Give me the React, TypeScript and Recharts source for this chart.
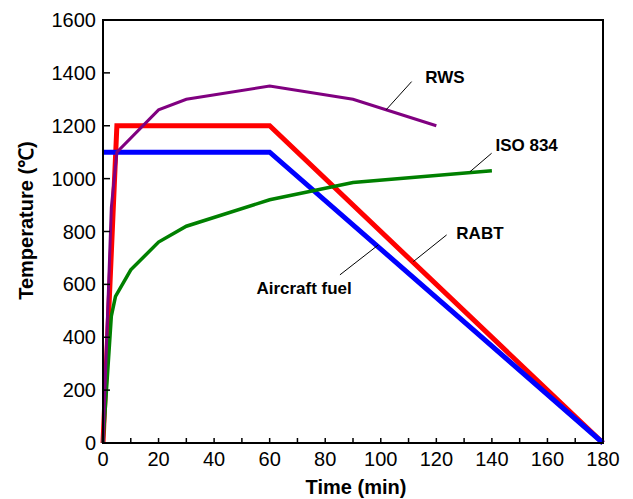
import React from 'react';
import { LineChart, Line, XAxis, YAxis, ReferenceArea, ReferenceLine, ReferenceDot } from 'recharts';

// Series (time in min, temperature in °C)
const rabtTime = [0, 5, 60, 180];
const rabtTemp = [0, 1200, 1200, 0];
const fuelTime = [0, 60, 180];
const fuelTemp = [1100, 1100, 0];
const rwsTime = [0, 3, 5, 20, 30, 60, 90, 120];
const rwsTemp = [0, 890, 1100, 1260, 1300, 1350, 1300, 1200];
const isoTime = [0, 3, 4.5, 10, 20, 30, 60, 90, 140];
const isoTemp = [0, 480, 555, 655, 760, 820, 920, 985, 1030];

// Axis ticks
const xTicks = [0, 10, 20, 30, 40, 50, 60, 70, 80, 90, 100, 110, 120, 130, 140, 150, 160, 170, 180];
const yTicks = [0, 200, 400, 600, 800, 1000, 1200, 1400, 1600];

// Annotations (data coordinates)
const labelNames = ['RWS', 'ISO 834', 'RABT', 'Aircraft fuel'];
const labelX = [123.1, 152.5, 135.7, 72.4];
const labelY = [1384, 1127, 794, 585];
const leaderX1 = [111.1, 139.9, 123.7, 85.3];
const leaderY1 = [1367, 1096, 787, 636];
const leaderX2 = [101.9, 132.1, 111.7, 99.1];
const leaderY2 = [1260, 1026, 686, 749];

const toData = (xs: number[], ys: number[]) => xs.map((t, i) => ({ t, v: ys[i] }));
const rabtData = toData(rabtTime, rabtTemp);
const fuelData = toData(fuelTime, fuelTemp);
const rwsData = toData(rwsTime, rwsTemp);
const isoData = toData(isoTime, isoTemp);

const FONT = '"Liberation Sans", Arial, sans-serif';

const YTick = (props: any) => {
  const { x, y, payload } = props;
  const ax = x + 7;
  return (
    <g>
      <line x1={ax} y1={y} x2={ax + 7} y2={y} stroke="#000" strokeWidth={1.5} />
      <text x={x} y={y} dy="0.355em" textAnchor="end" fontSize={20} fill="#000" fontFamily={FONT}>
        {payload.value}
      </text>
    </g>
  );
};

const XTick = (props: any) => {
  const { x, y, payload } = props;
  const ay = y - 9;
  return (
    <g>
      <line x1={x} y1={ay} x2={x} y2={ay - 5} stroke="#000" strokeWidth={1.5} />
      {payload.value % 20 === 0 ? (
        <text x={x} y={y} dy="0.71em" textAnchor="middle" fontSize={20} fill="#000" fontFamily={FONT}>
          {payload.value}
        </text>
      ) : null}
    </g>
  );
};

const YTitle = (props: any) => {
  const vb = props.viewBox || { x: 0, y: 20, width: 103, height: 423 };
  const x = vb.x + 33;
  const y = vb.y + vb.height / 2 - 11;
  return (
    <text x={x} y={y} transform={`rotate(-90, ${x}, ${y})`} textAnchor="middle" fontSize={20} fontWeight="bold" fill="#000" fontFamily={FONT}>
      Temperature (℃)
    </text>
  );
};

const XTitle = (props: any) => {
  const vb = props.viewBox || { x: 103, y: 443, width: 500, height: 56 };
  const x = vb.x + vb.width / 2 + 3;
  const y = vb.y + 51;
  return (
    <text x={x} y={y} textAnchor="middle" fontSize={20} fontWeight="bold" fill="#000" fontFamily={FONT}>
      Time (min)
    </text>
  );
};

const makeLabelShape = (name: string) => (p: any) => (
  <text x={p.cx} y={p.cy} dy="0.36em" textAnchor="middle" fontSize={17} fontWeight="bold" fill="#000" fontFamily={FONT}>
    {name}
  </text>
);

export default function App() {
  return (
    <div style={{ position: 'absolute', left: 0, top: 0 }}>
      <LineChart width={633} height={499} margin={{ top: 20, right: 30, bottom: 0, left: 0 }}>
        <XAxis
          dataKey="t"
          type="number"
          domain={[0, 180]}
          ticks={xTicks}
          interval={0}
          tickSize={0}
          tickMargin={9}
          tickLine={false}
          tick={<XTick />}
          height={56}
          axisLine={{ stroke: '#000', strokeWidth: 2 }}
          label={{ content: (p: any) => <XTitle {...p} /> }}
        />
        <YAxis
          type="number"
          domain={[0, 1600]}
          ticks={yTicks}
          interval={0}
          tickSize={0}
          tickMargin={7}
          tickLine={false}
          tick={<YTick />}
          width={103}
          axisLine={{ stroke: '#000', strokeWidth: 2 }}
          label={{ content: (p: any) => <YTitle {...p} /> }}
        />
        <ReferenceArea x1={0} x2={180} y1={0} y2={1600} fill="none" fillOpacity={0} stroke="#000" strokeWidth={2} />
        <Line data={rabtData} dataKey="v" stroke="#ff0000" strokeWidth={5} dot={false} isAnimationActive={false} />
        <Line data={fuelData} dataKey="v" stroke="#0000ff" strokeWidth={5} dot={false} isAnimationActive={false} />
        <Line data={isoData} dataKey="v" stroke="#008000" strokeWidth={3.5} dot={false} isAnimationActive={false} />
        <Line data={rwsData} dataKey="v" stroke="#800080" strokeWidth={3} dot={false} isAnimationActive={false} />
        {labelNames.map((n, i) => (
          <ReferenceLine
            key={'l' + i}
            segment={[{ x: leaderX1[i], y: leaderY1[i] }, { x: leaderX2[i], y: leaderY2[i] }]}
            stroke="#000"
            strokeWidth={1}
          />
        ))}
        {labelNames.map((n, i) => (
          <ReferenceDot key={'d' + i} x={labelX[i]} y={labelY[i]} r={0} shape={makeLabelShape(n)} />
        ))}
      </LineChart>
    </div>
  );
}
